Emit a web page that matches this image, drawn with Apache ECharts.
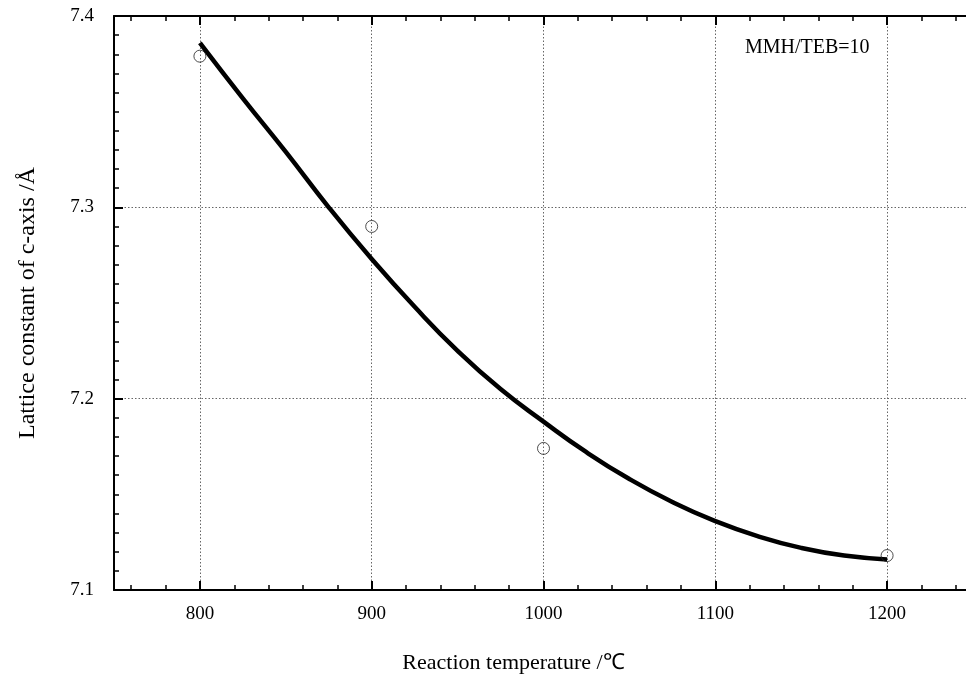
<!DOCTYPE html>
<html>
<head>
<meta charset="utf-8">
<script src="https://cdn.jsdelivr.net/npm/echarts@6/dist/echarts.min.js"></script>
<style>
html,body{margin:0;padding:0;background:#fff;}
#chart{width:966px;height:674px;}
</style>
</head>
<body>
<div id="chart"></div>
<script>
// Measured data points (open circles)
const tempPoints = [800, 900, 1000, 1200];
const latticePoints = [7.379, 7.290, 7.174, 7.118];

// Fitted curve
const curveTemps = [800, 825, 850, 875, 900, 925, 950, 975, 1000, 1025, 1050, 1075, 1100, 1125, 1150, 1175, 1200];
const curveValues = [7.386, 7.357, 7.329, 7.300, 7.273, 7.248, 7.225, 7.205, 7.188, 7.172, 7.158, 7.146, 7.136, 7.128, 7.122, 7.118, 7.116];

// Tick positions / labels
const xMajorTicks = [800, 900, 1000, 1100, 1200];
const xMinorTicks = [760, 780, 820, 840, 860, 880, 920, 940, 960, 980, 1020, 1040, 1060, 1080, 1120, 1140, 1160, 1180, 1220, 1240];

const xTitle = 'Reaction temperature /\u2103';
const yTitle = 'Lattice constant of c-axis /\u00C5';
const annotation = 'MMH/TEB=10';

const font = '"Liberation Serif", "Times New Roman", serif';

const chart = echarts.init(document.getElementById('chart'), null, {renderer: 'canvas'});

function xAxisDef(pos, major, extra) {
  return Object.assign({
    type: 'value', min: 750, max: 1250, interval: 50, position: pos,
    gridIndex: 0,
    axisLine: {show: major, onZero: false, lineStyle: {color: '#000', width: 2}},
    axisTick: {show: true, inside: true, length: major ? 9 : 5,
      customValues: major ? xMajorTicks : xMinorTicks,
      lineStyle: {color: '#000', width: major ? 2 : 1.5}},
    minorTick: {show: false},
    splitLine: {show: false},
    axisLabel: {show: false}
  }, extra || {});
}

chart.setOption({
  animation: false,
  backgroundColor: '#fff',
  grid: {left: 114, top: 16, right: -7, bottom: 84, containLabel: false, outerBoundsMode: 'none'},
  xAxis: [
    xAxisDef('bottom', true, {
      axisLabel: {show: true, margin: 15, color: '#000', fontFamily: font, fontSize: 19,
        customValues: xMajorTicks, formatter: v => String(v)},
      splitLine: {show: true, lineStyle: {color: '#666', type: [1.5, 2], width: 1}},
      name: xTitle, nameLocation: 'middle', nameGap: 62,
      nameTextStyle: {color: '#000', fontFamily: font, fontSize: 22, padding: [0, 60, 0, 0]}
    }),
    xAxisDef('top', true),
    xAxisDef('bottom', false),
    xAxisDef('top', false)
  ],
  yAxis: [{
    type: 'value', min: 7.1, max: 7.4, interval: 0.1, position: 'left',
    axisLine: {show: true, onZero: false, lineStyle: {color: '#000', width: 2}},
    axisTick: {show: true, inside: true, length: 9, lineStyle: {color: '#000', width: 2}},
    minorTick: {show: true, splitNumber: 10, length: 5, lineStyle: {color: '#000', width: 1.5}},
    axisLabel: {show: true, margin: 20, color: '#000', fontFamily: font, fontSize: 19,
      formatter: v => v.toFixed(1)},
    splitLine: {show: true, lineStyle: {color: '#666', type: [1.5, 2], width: 1}},
    name: yTitle, nameLocation: 'middle', nameGap: 74,
    nameTextStyle: {color: '#000', fontFamily: font, fontSize: 24}
  }],
  graphic: [{
    type: 'text', left: 745, top: 38,
    style: {text: annotation, fill: '#000', font: '20px ' + font}
  }],
  series: [
    {
      type: 'line', xAxisIndex: 0, yAxisIndex: 0,
      data: curveTemps.map((t, i) => [t, curveValues[i]]),
      smooth: true, showSymbol: false, symbol: 'none',
      lineStyle: {color: '#000', width: 4.5}, z: 3
    },
    {
      type: 'scatter', xAxisIndex: 0, yAxisIndex: 0,
      data: tempPoints.map((t, i) => [t, latticePoints[i]]),
      symbol: 'circle', symbolSize: 12,
      itemStyle: {color: 'rgba(255,255,255,0)', borderColor: '#222', borderWidth: 1}, z: 4
    }
  ]
});
</script>
</body>
</html>
